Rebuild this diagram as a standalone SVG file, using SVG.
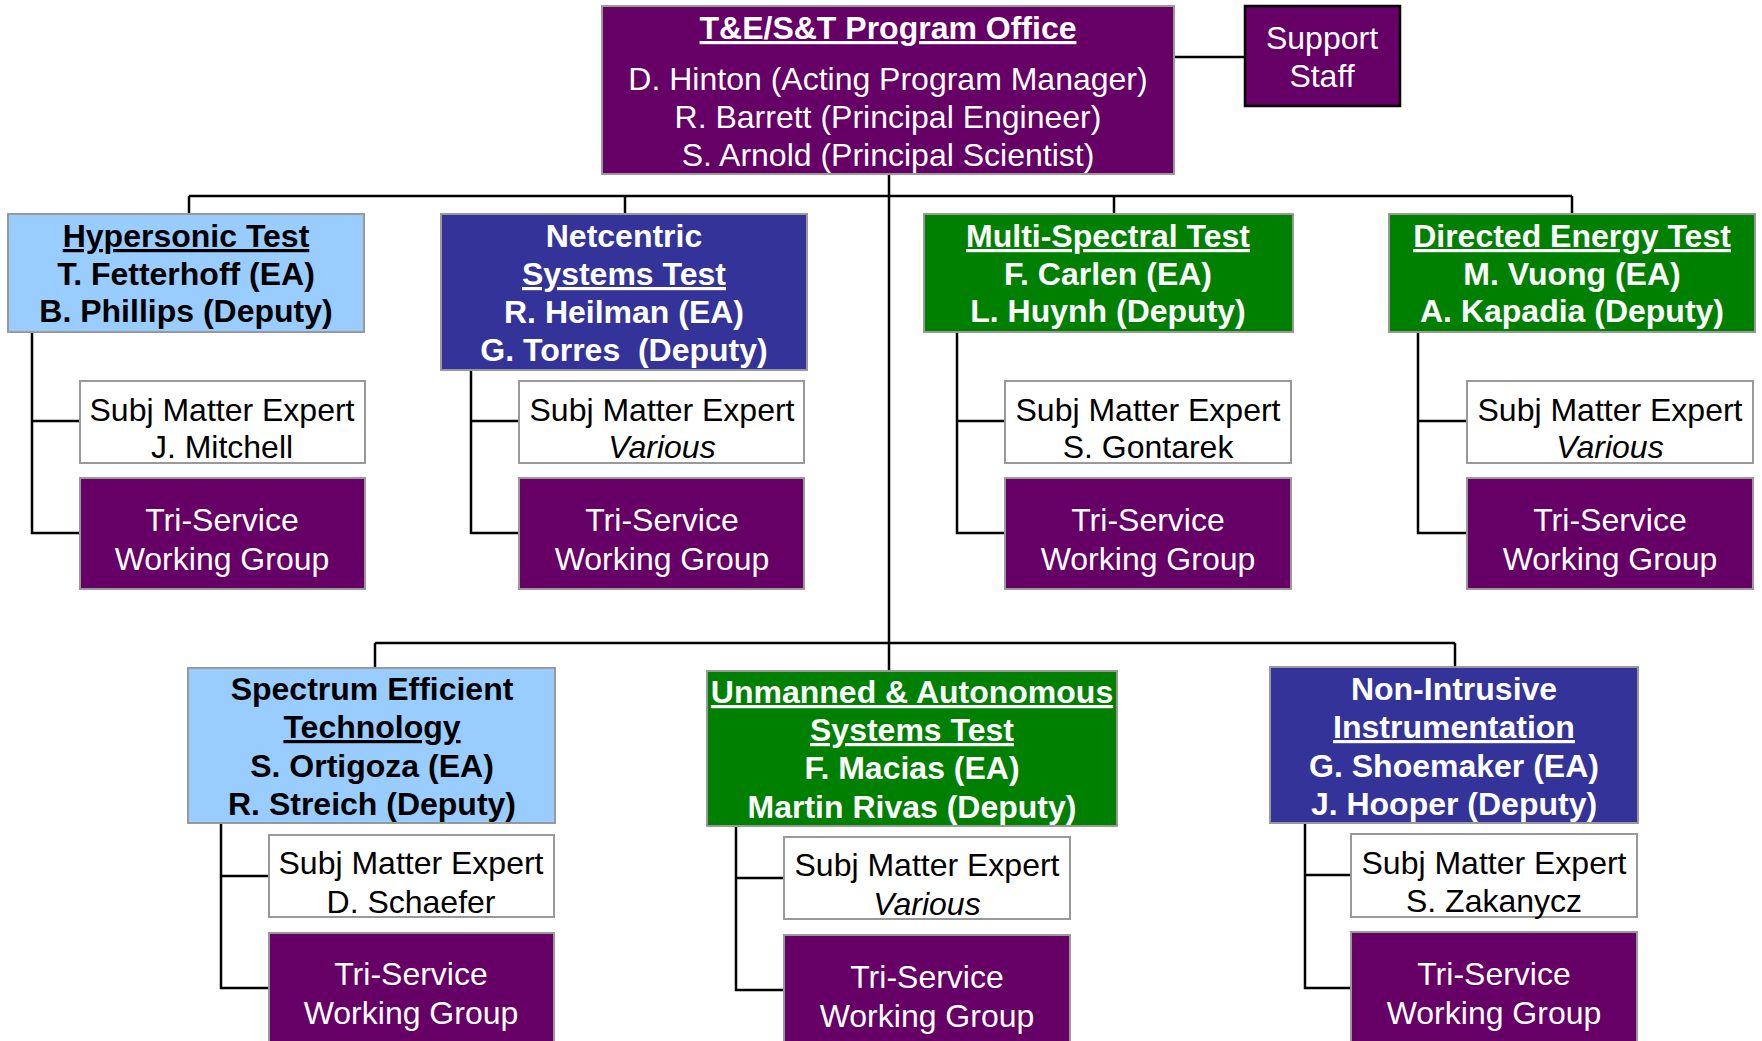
<svg xmlns="http://www.w3.org/2000/svg" width="1762" height="1041" viewBox="0 0 1762 1041">
<style>
.box{stroke:#999;stroke-width:2}
.p{fill:#660066}.lb{fill:#99CCFF}.db{fill:#333399}.gr{fill:#008000}.wh{fill:#fff}
text{font-family:"Liberation Sans",Arial,Helvetica,sans-serif;font-size:32px;text-anchor:middle}
.b{font-weight:bold}.u{text-decoration:underline}.i{font-style:italic}
.tw{fill:#fff}.tk{fill:#000}
.conn{stroke:#000;stroke-width:2.5;fill:none}
</style>
<rect width="1762" height="1041" fill="#fff"/>
<g id="connectors" class="conn">
<line x1="1174" y1="57" x2="1245" y2="57"/>
<line x1="889" y1="174" x2="889" y2="671"/>
<line x1="189" y1="196" x2="1572" y2="196"/>
<line x1="189" y1="196" x2="189" y2="214"/>
<line x1="625" y1="196" x2="625" y2="214"/>
<line x1="1114" y1="196" x2="1114" y2="214"/>
<line x1="1572" y1="196" x2="1572" y2="214"/>
<polyline points="32,332 32,533 80,533"/><line x1="32" y1="421" x2="80" y2="421"/>
<polyline points="471,370 471,533 519,533"/><line x1="471" y1="421" x2="519" y2="421"/>
<polyline points="957,332 957,533 1005,533"/><line x1="957" y1="421" x2="1005" y2="421"/>
<polyline points="1418,332 1418,533 1467,533"/><line x1="1418" y1="421" x2="1467" y2="421"/>
<line x1="375" y1="643" x2="1455" y2="643"/>
<line x1="375" y1="643" x2="375" y2="668"/>
<line x1="1455" y1="643" x2="1455" y2="667"/>
<polyline points="221,823 221,988 269,988"/><line x1="221" y1="876" x2="269" y2="876"/>
<polyline points="736,826 736,990 784,990"/><line x1="736" y1="878" x2="784" y2="878"/>
<polyline points="1305,823 1305,988 1351,988"/><line x1="1305" y1="875" x2="1351" y2="875"/>
</g>
<g id="program-office">
<rect class="box p" x="602" y="6" width="572" height="168"/>
<text class="b u tw" x="888" y="39">T&amp;E/S&amp;T Program Office</text>
<text class="tw" x="888" y="90">D. Hinton (Acting Program Manager)</text>
<text class="tw" x="888" y="128">R. Barrett (Principal Engineer)</text>
<text class="tw" x="888" y="166">S. Arnold (Principal Scientist)</text>
</g>
<g id="support-staff">
<rect class="p" x="1245" y="6" width="155" height="100" stroke="#000" stroke-width="2.5"/>
<text class="tw" x="1322" y="49">Support</text>
<text class="tw" x="1322" y="87">Staff</text>
</g>
<g id="hypersonic">
<rect class="box lb" x="8" y="214" width="356" height="118"/>
<text class="b u tk" x="186" y="247">Hypersonic Test</text>
<text class="b tk" x="186" y="285">T. Fetterhoff (EA)</text>
<text class="b tk" x="186" y="322">B. Phillips (Deputy)</text>
</g>
<g id="hypersonic-sme">
<rect class="box wh" x="80" y="381" width="285" height="82"/>
<text class="tk" x="222" y="421">Subj Matter Expert</text>
<text class="tk" x="222" y="458">J. Mitchell</text>
</g>
<g id="hypersonic-tswg">
<rect class="box p" x="80" y="478" width="285" height="111"/>
<text class="tw" x="222" y="531">Tri-Service</text>
<text class="tw" x="222" y="570">Working Group</text>
</g>
<g id="netcentric">
<rect class="box db" x="441" y="214" width="366" height="156"/>
<text class="b tw" x="624" y="247">Netcentric</text>
<text class="b u tw" x="624" y="285">Systems Test</text>
<text class="b tw" x="624" y="323">R. Heilman (EA)</text>
<text class="b tw" x="624" y="361" xml:space="preserve">G. Torres  (Deputy)</text>
</g>
<g id="netcentric-sme">
<rect class="box wh" x="519" y="381" width="285" height="82"/>
<text class="tk" x="662" y="421">Subj Matter Expert</text>
<text class="i tk" x="662" y="458">Various</text>
</g>
<g id="netcentric-tswg">
<rect class="box p" x="519" y="478" width="285" height="111"/>
<text class="tw" x="662" y="531">Tri-Service</text>
<text class="tw" x="662" y="570">Working Group</text>
</g>
<g id="multispectral">
<rect class="box gr" x="924" y="214" width="369" height="118"/>
<text class="b u tw" x="1108" y="247">Multi-Spectral Test</text>
<text class="b tw" x="1108" y="285">F. Carlen (EA)</text>
<text class="b tw" x="1108" y="322">L. Huynh (Deputy)</text>
</g>
<g id="multispectral-sme">
<rect class="box wh" x="1005" y="381" width="286" height="82"/>
<text class="tk" x="1148" y="421">Subj Matter Expert</text>
<text class="tk" x="1148" y="458">S. Gontarek</text>
</g>
<g id="multispectral-tswg">
<rect class="box p" x="1005" y="478" width="286" height="111"/>
<text class="tw" x="1148" y="531">Tri-Service</text>
<text class="tw" x="1148" y="570">Working Group</text>
</g>
<g id="directed-energy">
<rect class="box gr" x="1389" y="214" width="366" height="118"/>
<text class="b u tw" x="1572" y="247">Directed Energy Test</text>
<text class="b tw" x="1572" y="285">M. Vuong (EA)</text>
<text class="b tw" x="1572" y="322">A. Kapadia (Deputy)</text>
</g>
<g id="directed-energy-sme">
<rect class="box wh" x="1467" y="381" width="286" height="82"/>
<text class="tk" x="1610" y="421">Subj Matter Expert</text>
<text class="i tk" x="1610" y="458">Various</text>
</g>
<g id="directed-energy-tswg">
<rect class="box p" x="1467" y="478" width="286" height="111"/>
<text class="tw" x="1610" y="531">Tri-Service</text>
<text class="tw" x="1610" y="570">Working Group</text>
</g>
<g id="spectrum-efficient">
<rect class="box lb" x="188" y="668" width="367" height="155"/>
<text class="b tk" x="372" y="700">Spectrum Efficient</text>
<text class="b u tk" x="372" y="738">Technology</text>
<text class="b tk" x="372" y="777">S. Ortigoza (EA)</text>
<text class="b tk" x="372" y="815">R. Streich (Deputy)</text>
</g>
<g id="spectrum-efficient-sme">
<rect class="box wh" x="269" y="835" width="285" height="82"/>
<text class="tk" x="411" y="874">Subj Matter Expert</text>
<text class="tk" x="411" y="913">D. Schaefer</text>
</g>
<g id="spectrum-efficient-tswg">
<rect class="box p" x="269" y="933" width="285" height="120"/>
<text class="tw" x="411" y="985">Tri-Service</text>
<text class="tw" x="411" y="1024">Working Group</text>
</g>
<g id="unmanned">
<rect class="box gr" x="707" y="671" width="410" height="155"/>
<text class="b u tw" x="912" y="703">Unmanned &amp; Autonomous</text>
<text class="b u tw" x="912" y="741">Systems Test</text>
<text class="b tw" x="912" y="779">F. Macias (EA)</text>
<text class="b tw" x="912" y="818">Martin Rivas (Deputy)</text>
</g>
<g id="unmanned-sme">
<rect class="box wh" x="784" y="837" width="286" height="82"/>
<text class="tk" x="927" y="876">Subj Matter Expert</text>
<text class="i tk" x="927" y="915">Various</text>
</g>
<g id="unmanned-tswg">
<rect class="box p" x="784" y="935" width="286" height="120"/>
<text class="tw" x="927" y="988">Tri-Service</text>
<text class="tw" x="927" y="1027">Working Group</text>
</g>
<g id="non-intrusive">
<rect class="box db" x="1270" y="667" width="368" height="156"/>
<text class="b tw" x="1454" y="700">Non-Intrusive</text>
<text class="b u tw" x="1454" y="738">Instrumentation</text>
<text class="b tw" x="1454" y="777">G. Shoemaker (EA)</text>
<text class="b tw" x="1454" y="815">J. Hooper (Deputy)</text>
</g>
<g id="non-intrusive-sme">
<rect class="box wh" x="1351" y="834" width="286" height="83"/>
<text class="tk" x="1494" y="874">Subj Matter Expert</text>
<text class="tk" x="1494" y="912">S. Zakanycz</text>
</g>
<g id="non-intrusive-tswg">
<rect class="box p" x="1351" y="932" width="286" height="120"/>
<text class="tw" x="1494" y="985">Tri-Service</text>
<text class="tw" x="1494" y="1024">Working Group</text>
</g>
</svg>
